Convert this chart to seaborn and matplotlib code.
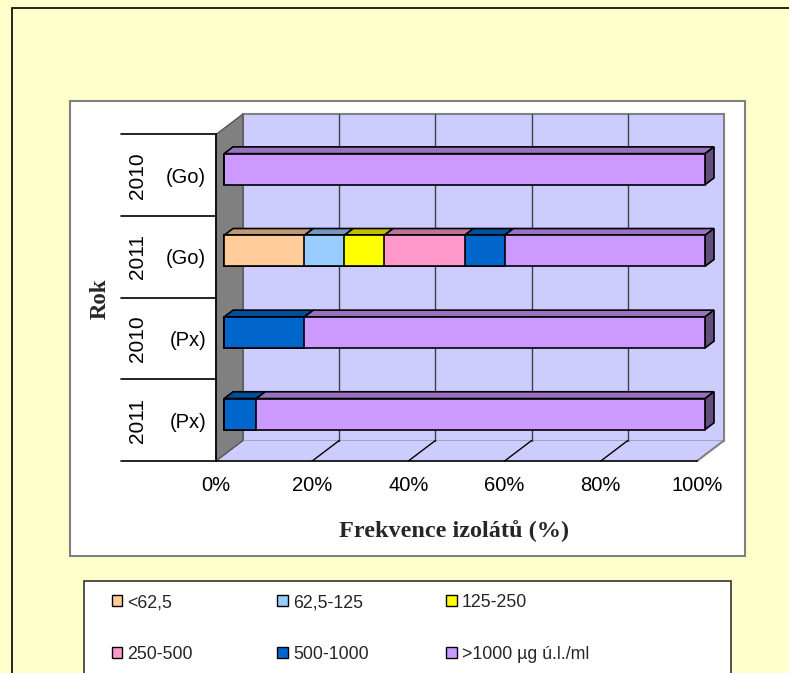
import numpy as np
import pandas as pd
import matplotlib
matplotlib.use("Agg")
import matplotlib.pyplot as plt
from matplotlib.patches import Rectangle, Patch
from matplotlib.transforms import Affine2D
from matplotlib.colors import to_rgb
import seaborn as sns

# ---------------- data ----------------
skupiny = ["2010 (Go)", "2011 (Go)", "2010 (Px)", "2011 (Px)"]
roky = ["2010", "2011", "2010", "2011"]
zdroje = ["(Go)", "(Go)", "(Px)", "(Px)"]
rozmezi = ["<62,5", "62,5-125", "125-250", "250-500", "500-1000", ">1000 µg ú.l./ml"]
podil_lt62 = [0, 16.7, 0, 0]
podil_62_125 = [0, 8.3, 0, 0]
podil_125_250 = [0, 8.3, 0, 0]
podil_250_500 = [0, 16.7, 0, 0]
podil_500_1000 = [0, 8.3, 16.7, 6.7]
podil_gt1000 = [100, 41.7, 83.3, 93.3]
barvy = ["#FFCC99", "#99CCFF", "#FFFF00", "#FF99CC", "#0066CC", "#CC99FF"]
osa_x = [0, 20, 40, 60, 80, 100]
popisky_x = ["0%", "20%", "40%", "60%", "80%", "100%"]

hodnoty = np.array([podil_lt62, podil_62_125, podil_125_250,
                    podil_250_500, podil_500_1000, podil_gt1000], dtype=float)
kumul = np.cumsum(hodnoty, axis=0)

# ---------------- style ----------------
sns.set_style("white")
plt.rcParams["font.family"] = ["Liberation Sans", "DejaVu Sans"]
SERIF = ["Liberation Serif", "DejaVu Serif"]

W, H = 789, 673
fig = plt.figure(figsize=(W / 100, H / 100), dpi=100, facecolor="#FFFFCC")


def fx(p):
    return p / W


def fy(p):
    return 1 - p / H


def ztmav(c, k):
    r, g, b = to_rgb(c)
    return (r * k, g * k, b * k)


# page frame, plot area and legend panel (behind the axes)
fig.patches.append(Rectangle((fx(11.5), fy(720)), fx(900) - fx(11.5), fy(7.5) - fy(720),
                             transform=fig.transFigure, fill=False,
                             edgecolor="black", lw=1.2, zorder=-3))
fig.patches.append(Rectangle((fx(70), fy(556)), fx(745) - fx(70), fy(101) - fy(556),
                             transform=fig.transFigure, facecolor="white",
                             edgecolor="#808080", lw=1.5, zorder=-2))
fig.patches.append(Rectangle((fx(84), fy(720)), fx(731) - fx(84), fy(580.7) - fy(720),
                             transform=fig.transFigure, facecolor="white",
                             edgecolor="#333333", lw=1.2, zorder=-2))

# axes = front plane of the 3-D box
ax = fig.add_axes([fx(216), fy(461), fx(724) - fx(216), fy(114) - fy(461)])
ax.set_facecolor("none")

PX_PCT = (696.7 - 216) / 100.0      # pixels per percent
DX = 27 / PX_PCT                     # depth offset along x (percent units)
DY = 20.5 / 81.7                     # depth offset along y (row units)
D0, DB = 0.30, 0.33                  # bar front depth and bar thickness
HALF = 0.19                          # half bar height

# stacked bars: cumulative totals drawn from the longest to the shortest
df = pd.DataFrame({"skupina": skupiny})
for i in reversed(range(len(rozmezi))):
    df["kum"] = kumul[i]
    sns.barplot(data=df, x="kum", y="skupina", order=skupiny, orient="h",
                color=barvy[i], saturation=1, width=2 * HALF,
                edgecolor="black", linewidth=1.2, errorbar=None, ax=ax)

posun = Affine2D().translate(D0 * DX, -D0 * DY) + ax.transData
for p in ax.patches:
    p.set_transform(posun)
    p.set_zorder(4)
    p.set_clip_on(False)

# top and side faces of the bars
for r in range(len(skupiny)):
    vlevo = 0.0
    for i in range(len(rozmezi)):
        v = hodnoty[i][r]
        if v <= 0:
            continue
        vpravo = vlevo + v
        yt = r - HALF
        xs = np.array([vlevo, vpravo, vpravo + DB * DX, vlevo + DB * DX]) + D0 * DX
        ys = np.array([yt, yt, yt - DB * DY, yt - DB * DY]) - D0 * DY
        ax.fill(xs, ys, facecolor=ztmav(barvy[i], 0.75), edgecolor="black",
                lw=1.2, zorder=3.5, clip_on=False)
        vlevo = vpravo
    i_last = max(i for i in range(len(rozmezi)) if hodnoty[i][r] > 0)
    xs = np.array([vlevo, vlevo + DB * DX, vlevo + DB * DX, vlevo]) + D0 * DX
    ys = np.array([r - HALF, r - HALF - DB * DY, r + HALF - DB * DY, r + HALF]) - D0 * DY
    ax.fill(xs, ys, facecolor=ztmav(barvy[i_last], 0.5), edgecolor="black",
            lw=1.2, zorder=3.5, clip_on=False)

# walls and floor
y0, y1 = -0.5, 3.5
ax.fill([DX, 100 + DX, 100 + DX, DX], [y0 - DY, y0 - DY, y1 - DY, y1 - DY],
        facecolor="#CCCCFF", edgecolor="#808080", lw=1.5, zorder=0.5, clip_on=False)
ax.fill([0, 100, 100 + DX, DX], [y1, y1, y1 - DY, y1 - DY],
        facecolor="#CCCCFF", edgecolor="none", zorder=0.6, clip_on=False)
ax.plot([100, 100 + DX], [y1, y1 - DY], color="#808080", lw=1.5, zorder=0.7, clip_on=False)
ax.fill([0, DX, DX, 0], [y0, y0 - DY, y1 - DY, y1],
        facecolor="#808080", edgecolor="#555555", lw=1.0, zorder=0.8, clip_on=False)
for v in osa_x[1:-1]:
    ax.plot([v + DX, v + DX], [y0 - DY, y1 - DY], color="#404040", lw=1.0, zorder=0.7)
    ax.plot([v, v + DX], [y1, y1 - DY], color="black", lw=1.0, zorder=0.7, clip_on=False)

ax.set_xlim(0, 100 + DX)
ax.set_ylim(y1, y0 - DY)

# axes, ticks and labels
for s in ["top", "right"]:
    ax.spines[s].set_visible(False)
ax.spines["bottom"].set_bounds(0, 100)
ax.spines["left"].set_bounds(y0, y1)
for s in ["bottom", "left"]:
    ax.spines[s].set_color("black")
    ax.spines[s].set_linewidth(1.2)
    ax.spines[s].set_zorder(5)

ax.set_xticks(osa_x)
ax.set_xticklabels(popisky_x)
ax.tick_params(axis="x", direction="out", length=4.5, width=1.0, color="black",
               pad=6.5, labelsize=14.5, labelcolor="black")
ax.set_yticks(range(len(skupiny)))
ax.set_yticklabels(zdroje)
ax.tick_params(axis="y", length=0, pad=7, labelsize=14.5, labelcolor="black")
ax.set_xlabel("")
ax.set_ylabel("")

ytr = ax.get_yaxis_transform()
for r, rok in enumerate(roky):
    ax.text(-0.1545, r, rok, transform=ytr, rotation=90, ha="center", va="center",
            fontsize=15, color="black")
for b in [-0.5, 0.5, 1.5, 2.5, 3.5]:
    ax.plot([-0.187, 0], [b, b], transform=ytr, color="black", lw=1.2, clip_on=False)

fig.text(fx(100), fy(298.7), "Rok", rotation=90, ha="center", va="center",
         family=SERIF, weight="bold", fontsize=16.5)
fig.text(fx(454.3), fy(536.7), "Frekvence izolátů (%)", ha="center", va="baseline",
         family=SERIF, weight="bold", fontsize=17.5)

# legend: three columns, two rows
handles = [Patch(facecolor=c, edgecolor="black", lw=1.0) for c in barvy]
sloupce_x = [111.5, 277, 446]
for k, sx in enumerate(sloupce_x):
    fig.legend([handles[k], handles[k + 3]], [rozmezi[k], rozmezi[k + 3]],
               loc="upper left", bbox_to_anchor=(fx(sx), fy(594)),
               frameon=False, fontsize=12.8, handlelength=0.6, handleheight=0.6,
               handletextpad=0.3, borderpad=0, borderaxespad=0, labelspacing=1.95)

fig.savefig("out.png", dpi=100, facecolor=fig.get_facecolor())
